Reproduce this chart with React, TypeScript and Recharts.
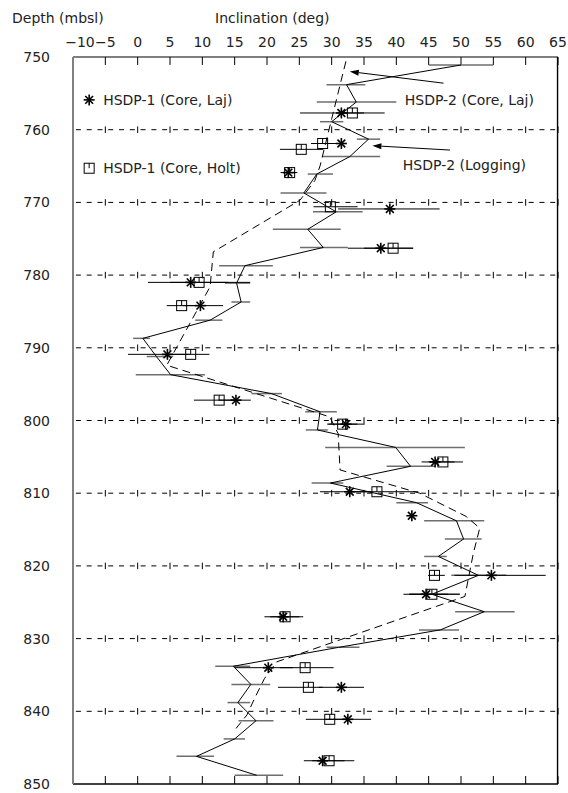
import React from 'react';
import {
  ScatterChart,
  Scatter,
  XAxis,
  YAxis,
  ErrorBar,
  ReferenceLine,
  ReferenceDot,
  Customized,
} from 'recharts';

const FONT = '"DejaVu Sans", sans-serif';

// HSDP-2 (Core, Laj): depth, inclination, error-bar low/high
const coreDepth = [751.1, 753.8, 756.2, 758.9, 761.3, 763.7, 766.1, 768.7, 771.3, 773.7, 776.2, 778.7, 781.1, 783.7, 786.2, 788.7, 791.2, 793.7, 796.3, 798.8, 801.3, 803.7, 806.3, 808.6, 811.3, 813.8, 816.3, 818.7, 821.3, 823.9, 826.3, 828.8, 831.2, 833.8, 836.3, 838.8, 841.3, 843.8, 846.2, 848.8];
const coreInc = [50.0, 32.3, 33.8, 30.0, 35.7, 32.8, 27.7, 25.7, 30.7, 26.3, 28.7, 16.6, 15.3, 16.0, 11.2, 0.8, 2.9, 5.1, 20.7, 28.2, 27.8, 39.9, 42.2, 29.8, 43.1, 49.3, 50.4, 46.5, 52.7, 45.5, 53.6, 46.8, 31.1, 14.8, 17.5, 15.5, 18.3, 15.0, 9.1, 18.4];
const coreLo = [45.0, 29.2, 27.7, 28.2, 33.9, 28.5, 26.3, 22.1, 27.1, 20.9, 25.1, 12.6, 13.5, 14.5, 8.9, -0.7, 1.4, -0.3, 17.6, 25.9, 26.0, 29.0, 38.5, 26.9, 40.0, 44.3, 47.5, 44.3, 48.5, 42.0, 49.1, 43.5, 29.2, 12.0, 14.5, 13.9, 15.6, 13.3, 6.0, 15.0];
const coreHi = [55.0, 35.2, 40.0, 31.8, 37.5, 37.5, 30.2, 29.2, 34.8, 31.4, 32.5, 20.9, 17.4, 17.4, 13.1, 1.9, 5.5, 10.4, 22.3, 30.8, 29.4, 50.6, 46.0, 31.8, 44.9, 53.6, 53.2, 47.8, 57.0, 49.8, 58.3, 49.7, 34.3, 17.4, 20.5, 17.4, 21.0, 16.6, 11.8, 22.5];

// HSDP-2 (Logging)
const logDepth = [750.6, 765.0, 767.0, 769.7, 776.8, 781.6, 792.4, 799.5, 801.8, 806.8, 810.0, 813.2, 814.8, 818.3, 824.2, 833.2, 835.5, 838.0, 840.5, 842.8];
const logInc = [32.2, 28.2, 27.4, 25.1, 11.7, 11.2, 4.5, 29.7, 31.0, 31.3, 43.6, 50.8, 52.9, 51.9, 50.6, 21.5, 19.6, 18.2, 16.9, 14.8];

// HSDP-1 (Core, Laj)
const lajDepth = [757.7, 761.9, 765.9, 770.9, 776.3, 781.0, 784.2, 790.9, 797.2, 800.5, 805.7, 809.8, 813.1, 821.3, 823.9, 827.0, 834.0, 836.7, 841.1, 846.8];
const lajInc = [31.5, 31.5, 23.3, 39.0, 37.6, 8.2, 9.7, 4.6, 15.2, 32.2, 46.0, 32.8, 42.4, 54.7, 44.6, 22.5, 20.2, 31.5, 32.5, 28.6];
const lajLo = [25.1, 31.5, 22.1, 31.0, 32.5, 1.6, 7.0, -1.5, 12.5, 29.5, 43.9, 28.2, 42.4, 49.0, 41.1, 19.6, 15.0, 28.0, 29.0, 25.7];
const lajHi = [38.2, 31.5, 24.7, 46.7, 42.6, 14.0, 13.2, 8.0, 17.5, 35.1, 49.0, 36.0, 42.4, 63.1, 48.0, 25.0, 24.0, 35.0, 36.1, 32.0];

// HSDP-1 (Core, Holt)
const holtDepth = [757.7, 761.9, 762.7, 765.9, 770.6, 776.3, 781.0, 784.2, 790.9, 797.2, 800.5, 805.7, 809.8, 821.3, 823.9, 827.0, 834.0, 836.7, 841.1, 846.8];
const holtInc = [33.2, 28.6, 25.3, 23.5, 29.8, 39.5, 9.5, 6.8, 8.2, 12.6, 31.7, 47.2, 37.0, 45.9, 45.5, 22.8, 25.9, 26.4, 29.7, 29.6];
const holtLo = [31.5, 26.8, 22.0, 22.5, 27.2, 35.0, 5.0, 4.5, 5.0, 8.7, 29.3, 45.0, 33.0, 44.9, 42.0, 20.5, 22.0, 21.7, 26.0, 27.0];
const holtHi = [35.0, 31.0, 28.7, 24.5, 34.0, 42.6, 17.4, 9.0, 11.1, 15.0, 34.0, 50.3, 43.4, 47.5, 49.8, 25.6, 30.3, 28.6, 32.5, 33.5];

const xTicks = [-10, -5, 0, 5, 10, 15, 20, 25, 30, 35, 40, 45, 50, 55, 60, 65];
const yTicks = [750, 760, 770, 780, 790, 800, 810, 820, 830, 840, 850];
const gridDepths = [760, 770, 780, 790, 800, 810, 820, 830, 840];

const legendItems = ['HSDP-1 (Core, Laj)', 'HSDP-1 (Core, Holt)'];
const seriesLabels = ['HSDP-2 (Core, Laj)', 'HSDP-2 (Logging)'];

const withErr = (d: number[], v: number[], lo: number[], hi: number[]) =>
  d.map((depth, i) => ({ depth, inc: v[i], err: [v[i] - lo[i], hi[i] - v[i]] }));

const coreData = withErr(coreDepth, coreInc, coreLo, coreHi);
const logData = logDepth.map((depth, i) => ({ depth, inc: logInc[i] }));
const lajData = withErr(lajDepth, lajInc, lajLo, lajHi);
const holtData = withErr(holtDepth, holtInc, holtLo, holtHi);

const Star = ({ cx, cy }: any) => {
  const r = 5.5;
  const d = 3.9;
  return (
    <g stroke="#000" strokeWidth={1.6}>
      <line x1={cx} y1={cy - r} x2={cx} y2={cy + r} />
      <line x1={cx - r} y1={cy} x2={cx + r} y2={cy} />
      <line x1={cx - d} y1={cy - d} x2={cx + d} y2={cy + d} />
      <line x1={cx - d} y1={cy + d} x2={cx + d} y2={cy - d} />
    </g>
  );
};

const Square = ({ cx, cy }: any) => (
  <g stroke="#000" strokeWidth={1} fill="none">
    <rect x={cx - 5} y={cy - 5} width={10} height={10} />
    <line x1={cx} y1={cy - 5} x2={cx} y2={cy} />
  </g>
);

const Empty = () => <g />;

const Arrow = (p: any) => {
  const { x1, y1, x2, y2 } = p;
  const a = Math.atan2(y2 - y1, x2 - x1);
  const L = 9;
  const W = 3;
  const bx = x2 - L * Math.cos(a);
  const by = y2 - L * Math.sin(a);
  const px = -Math.sin(a) * W;
  const py = Math.cos(a) * W;
  return (
    <g>
      <line x1={x1} y1={y1} x2={bx} y2={by} stroke="#000" strokeWidth={1} />
      <polygon points={`${x2},${y2} ${bx + px},${by + py} ${bx - px},${by - py}`} fill="#000" />
    </g>
  );
};

const Border = (p: any) => (
  <line x1={p.x1} y1={p.y1} x2={p.x2} y2={p.y2} stroke="#000" strokeWidth={1.4} />
);

const XTick = ({ x, y, payload }: any) => {
  const v = payload.value;
  const label = String(v).replace('-', '\u2212');
  return (
    <text x={x + (v === -10 ? 7 : 0)} y={y} textAnchor="middle" fontFamily={FONT} fontSize={14} fill="#222">
      {label}
    </text>
  );
};

const YTick = ({ x, y, payload }: any) => (
  <text x={x} y={y + 5} textAnchor="end" fontFamily={FONT} fontSize={14} fill="#222">
    {payload.value}
  </text>
);

const Titles = () => (
  <g fontFamily={FONT} fontSize={14} fill="#222">
    <text x={12} y={23}>Depth (mbsl)</text>
    <text x={215} y={23}>Inclination (deg)</text>
  </g>
);

export default function App() {
  return (
    <div style={{ position: 'absolute', left: 0, top: 0, width: 568, height: 793, overflow: 'hidden' }}>
      <ScatterChart width={568} height={793} margin={{ top: 27, right: 10, bottom: 9, left: 13 }}>
        <XAxis
          type="number"
          dataKey="inc"
          orientation="top"
          domain={[-10, 65]}
          ticks={xTicks}
          allowDataOverflow
          height={30}
          tickSize={0}
          tickMargin={10}
          tickLine={false}
          axisLine={{ stroke: '#000', strokeWidth: 1.2 }}
          tick={<XTick />}
          interval={0}
        />
        <YAxis
          type="number"
          dataKey="depth"
          domain={[750, 850]}
          reversed
          ticks={yTicks}
          allowDataOverflow
          width={60}
          tickSize={0}
          tickMargin={23}
          tickLine={false}
          axisLine={{ stroke: '#808080', strokeWidth: 2 }}
          tick={<YTick />}
          interval={0}
        />
        {gridDepths.map((g) => (
          <ReferenceLine key={'g' + g} y={g} stroke="#000" strokeWidth={1} strokeDasharray="5 5.78" strokeDashoffset={7.88} />
        ))}
        {gridDepths.map((g) =>
          xTicks.map((t) => (
            <ReferenceLine
              key={'gt' + g + '_' + t}
              segment={[{ x: t, y: g - 0.45 }, { x: t, y: g + 0.45 }]}
              stroke="#000"
              strokeWidth={1}
            />
          ))
        )}
        {xTicks.map((t) => (
          <ReferenceLine key={'tt' + t} segment={[{ x: t, y: 750 }, { x: t, y: 751.1 }]} stroke="#000" strokeWidth={1} />
        ))}
        {xTicks.map((t) => (
          <ReferenceLine key={'bt' + t} segment={[{ x: t, y: 850 }, { x: t, y: 848.9 }]} stroke="#000" strokeWidth={1} />
        ))}
        <ReferenceLine segment={[{ x: -10, y: 850 }, { x: 65, y: 850 }]} ifOverflow="visible" shape={Border} />
        <ReferenceLine segment={[{ x: 64.93, y: 750 }, { x: 64.93, y: 850 }]} ifOverflow="visible" shape={Border} />

        <Scatter
          data={logData}
          line={{ stroke: '#000', strokeWidth: 1, strokeDasharray: '8 5' }}
          lineType="joint"
          shape={<Empty />}
          isAnimationActive={false}
        />
        <Scatter
          data={coreData}
          line={{ stroke: '#000', strokeWidth: 1 }}
          lineType="joint"
          shape={<Empty />}
          isAnimationActive={false}
        >
          <ErrorBar dataKey="err" direction="x" width={0} stroke="#6e6e6e" strokeWidth={1.5} isAnimationActive={false} />
        </Scatter>
        <Scatter data={lajData} shape={<Star />} isAnimationActive={false}>
          <ErrorBar dataKey="err" direction="x" width={0} stroke="#000" strokeWidth={1} isAnimationActive={false} />
        </Scatter>
        <Scatter data={holtData} shape={<Square />} isAnimationActive={false}>
          <ErrorBar dataKey="err" direction="x" width={0} stroke="#000" strokeWidth={1} isAnimationActive={false} />
        </Scatter>

        <ReferenceDot
          x={-7.5}
          y={755.9}
          r={0}
          shape={(p: any) => (
            <g>
              <Star cx={p.cx} cy={p.cy} />
              <text x={p.cx + 14} y={p.cy + 5} fontFamily={FONT} fontSize={14} fill="#222">{legendItems[0]}</text>
            </g>
          )}
        />
        <ReferenceDot
          x={-7.5}
          y={765.3}
          r={0}
          shape={(p: any) => (
            <g>
              <Square cx={p.cx} cy={p.cy} />
              <text x={p.cx + 14} y={p.cy + 5} fontFamily={FONT} fontSize={14} fill="#222">{legendItems[1]}</text>
            </g>
          )}
        />
        <ReferenceDot
          x={41.3}
          y={755.9}
          r={0}
          shape={(p: any) => (
            <text x={p.cx} y={p.cy + 5} fontFamily={FONT} fontSize={14} fill="#222">{seriesLabels[0]}</text>
          )}
        />
        <ReferenceDot
          x={41.0}
          y={764.9}
          r={0}
          shape={(p: any) => (
            <text x={p.cx} y={p.cy + 5} fontFamily={FONT} fontSize={14} fill="#222">{seriesLabels[1]}</text>
          )}
        />
        <ReferenceLine segment={[{ x: 47.3, y: 753.6 }, { x: 32.8, y: 752.0 }]} shape={Arrow} />
        <ReferenceLine segment={[{ x: 48.3, y: 762.8 }, { x: 36.3, y: 762.2 }]} shape={Arrow} />
        <Customized component={Titles} />
      </ScatterChart>
    </div>
  );
}
